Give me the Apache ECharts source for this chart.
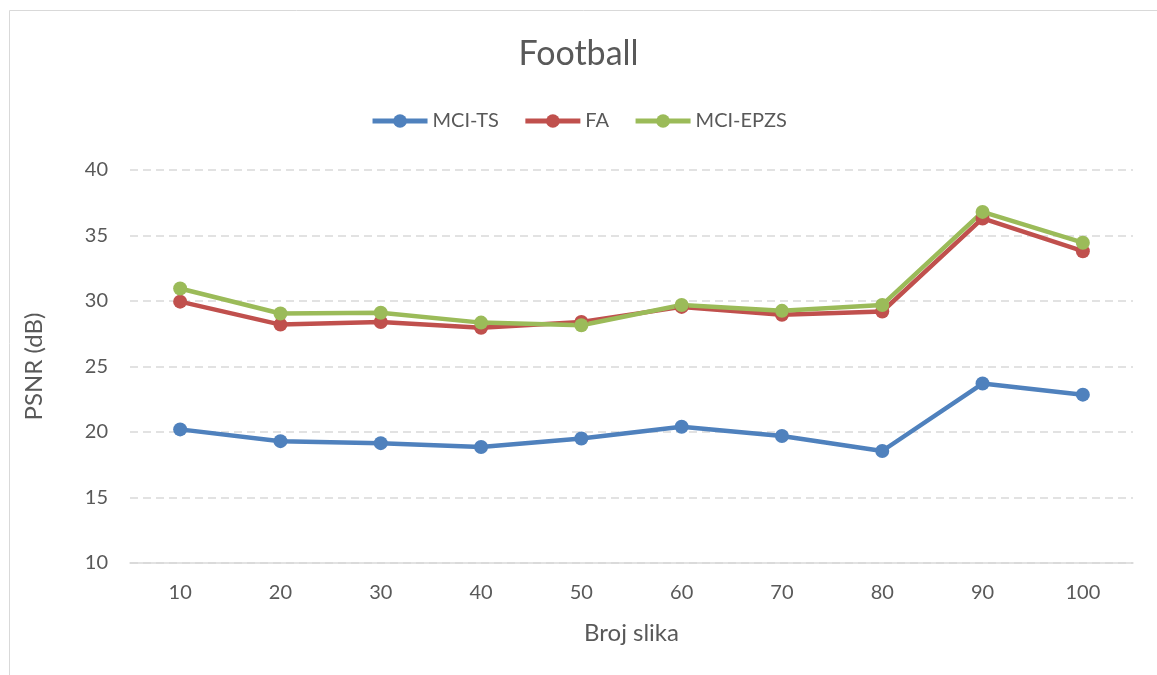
<!DOCTYPE html>
<html>
<head>
<meta charset="utf-8">
<script src="https://cdn.jsdelivr.net/npm/echarts@6/dist/echarts.min.js"></script>
<style>html,body{margin:0;padding:0;background:#fff}#c{width:1157px;height:675px}</style>
</head>
<body>
<div id="c"></div>
<script>
const categories = ['10','20','30','40','50','60','70','80','90','100'];
const mciTS   = [20.2, 19.3, 19.15, 18.85, 19.5, 20.4, 19.7, 18.55, 23.7, 22.85];
const fa      = [29.95, 28.2, 28.4, 27.95, 28.4, 29.55, 28.95, 29.2, 36.3, 33.8];
const mciEPZS = [30.95, 29.05, 29.1, 28.35, 28.15, 29.7, 29.25, 29.7, 36.8, 34.45];
const yTicks = [10, 15, 20, 25, 30, 35, 40];

const FONT = 'Lato, "Open Sans", sans-serif';
const TXT = '#595959';
const chart = echarts.init(document.getElementById('c'));
function mk(name, data, color){
  return {name, type:'line', data, color, symbol:'circle', symbolSize:14,
    lineStyle:{width:4.5, color}, itemStyle:{color}, emphasis:{disabled:true}, animation:false};
}
chart.setOption({
  animation:false,
  graphic:[{type:'rect', shape:{x:9.5,y:10.5,width:1160,height:680}, style:{fill:'none', stroke:'#d9d9d9', lineWidth:1}, silent:true, z:-1}],
  title:{text:'Football', left:'center', top:32, textStyle:{fontFamily:FONT, fontSize:34, fontWeight:'normal', color:TXT}},
  legend:{top:106, left:'center', itemWidth:55, itemHeight:17, itemGap:24,
    lineStyle:{width:5},
    textStyle:{fontFamily:FONT, fontSize:20, color:TXT},
    data:['MCI-TS','FA','MCI-EPZS']},
  grid:{left:130, right:24, top:170, bottom:112, containLabel:false},
  xAxis:{type:'category', data:categories, boundaryGap:true,
    name:'Broj slika', nameLocation:'middle', nameGap:58,
    nameTextStyle:{fontFamily:FONT, fontSize:24, color:TXT},
    axisLine:{lineStyle:{color:'#d9d9d9', width:1.5}}, axisTick:{show:false},
    axisLabel:{fontFamily:FONT, fontSize:20, color:TXT, margin:20}},
  yAxis:{type:'value', min:yTicks[0], max:yTicks[yTicks.length-1], interval:5,
    name:'PSNR (dB)', nameLocation:'middle', nameGap:84, nameRotate:90,
    nameTextStyle:{fontFamily:FONT, fontSize:24, color:TXT},
    axisLine:{show:false}, axisTick:{show:false},
    axisLabel:{fontFamily:FONT, fontSize:20, color:TXT, margin:22},
    splitLine:{lineStyle:{color:'#d9d9d9', width:1.5, type:[8,5]}}},
  series:[mk('MCI-TS', mciTS, '#4f81bd'), mk('FA', fa, '#c0504d'), mk('MCI-EPZS', mciEPZS, '#9bbb59')]
});
</script>
</body>
</html>
